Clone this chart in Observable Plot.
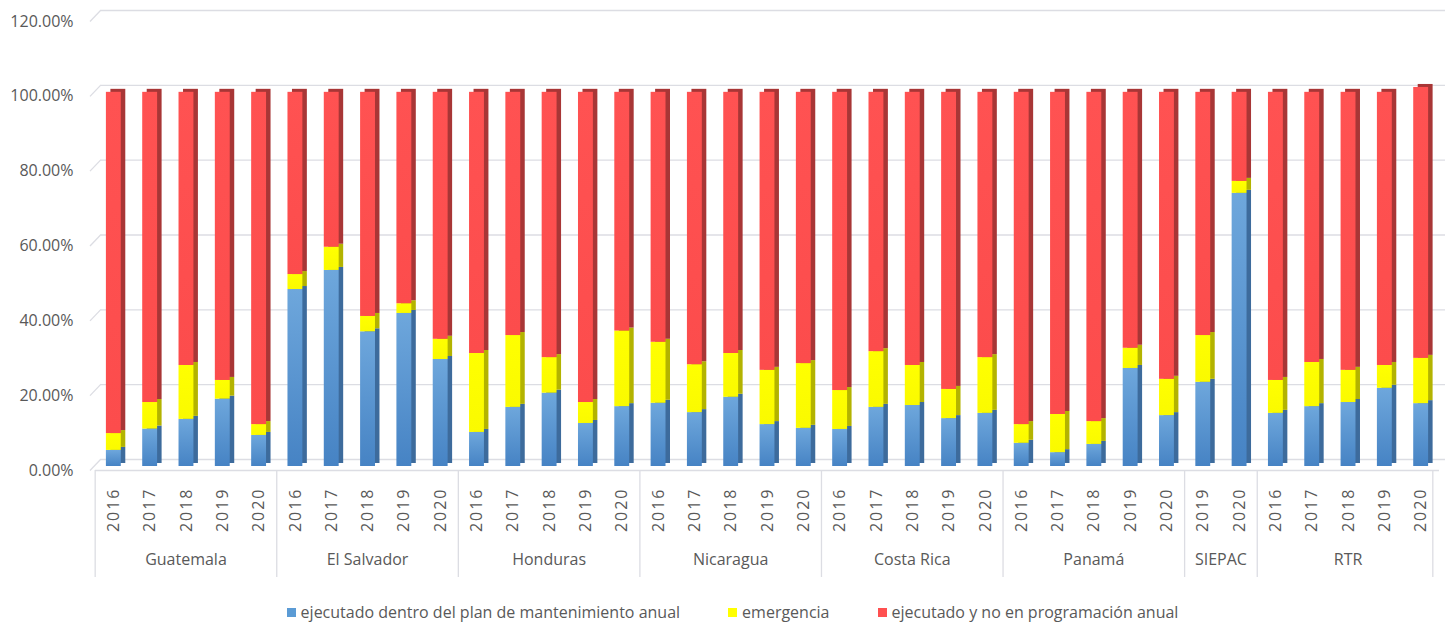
<!DOCTYPE html>
<html>
<head>
<meta charset="utf-8">
<script src="https://cdn.jsdelivr.net/npm/d3@7"></script>
<script src="https://cdn.jsdelivr.net/npm/@observablehq/plot@0.6"></script>
<style>
  body { margin: 0; background: #fff; font-family: "Open Sans", sans-serif; color: #595959; overflow: hidden; }
  #chart svg { display: block; }
  #legend { display: flex; justify-content: center; align-items: center; height: 26px; margin-top: 9px; padding-left: 12px; font-size: 16px; line-height: 20px; color: #595959; }
  #legend .item { display: flex; align-items: center; margin: 0 24px; }
  #legend .sw { width: 9px; height: 9px; margin-right: 5px; }
</style>
</head>
<body>
<svg width="0" height="0" style="position:absolute">
  <defs>
    <linearGradient id="gBlue" x1="0" y1="0" x2="0" y2="1">
      <stop offset="0" stop-color="#6ea7dc"/>
      <stop offset="1" stop-color="#4683c4"/>
    </linearGradient>
    <linearGradient id="gRed" x1="0" y1="0" x2="0" y2="1">
      <stop offset="0" stop-color="#ff5252"/>
      <stop offset="1" stop-color="#fc4c4c"/>
    </linearGradient>
    <linearGradient id="gYellow" x1="0" y1="0" x2="0" y2="1">
      <stop offset="0" stop-color="#ffff00"/>
      <stop offset="1" stop-color="#fafa00"/>
    </linearGradient>
  </defs>
</svg>
<div id="chart"></div>
<div id="legend"></div>
<script>
// ---- data ----
const countries = ["Guatemala", "El Salvador", "Honduras", "Nicaragua", "Costa Rica", "Panamá", "SIEPAC", "RTR"];
const countryYears = [
  [2016, 2017, 2018, 2019, 2020],
  [2016, 2017, 2018, 2019, 2020],
  [2016, 2017, 2018, 2019, 2020],
  [2016, 2017, 2018, 2019, 2020],
  [2016, 2017, 2018, 2019, 2020],
  [2016, 2017, 2018, 2019, 2020],
  [2019, 2020],
  [2016, 2017, 2018, 2019, 2020]
];
const seriesNames = [
  "ejecutado dentro del plan de mantenimiento anual",
  "emergencia",
  "ejecutado y no en programación anual"
];
// percentages, one value per bar in the order above
const dentroPlan = [
  4.3, 10.0, 12.6, 18.0, 8.3,
  47.3, 52.4, 36.0, 40.9, 28.6,
  9.1, 15.8, 19.6, 11.5, 16.0,
  16.9, 14.4, 18.5, 11.2, 10.2,
  9.9, 15.8, 16.3, 12.8, 14.2,
  6.2, 3.7, 5.9, 26.2, 13.6,
  22.5, 73.0,
  14.2, 16.0, 17.1, 20.9, 16.8
];
const emergencia = [
  4.5, 7.1, 14.4, 5.0, 2.9,
  4.0, 6.2, 4.1, 2.6, 5.4,
  21.1, 19.2, 9.5, 5.6, 20.2,
  16.3, 12.8, 11.7, 14.5, 17.3,
  10.4, 14.9, 10.7, 7.8, 14.9,
  5.0, 10.2, 6.1, 5.4, 9.7,
  12.5, 3.2,
  8.8, 11.8, 8.6, 6.1, 12.1
];
const noProgramado = [
  91.2, 82.9, 73.0, 77.0, 88.8,
  48.7, 41.4, 59.9, 56.5, 66.0,
  69.8, 65.0, 70.9, 82.9, 63.8,
  66.8, 72.8, 69.8, 74.3, 72.5,
  79.7, 69.3, 73.0, 79.4, 70.9,
  88.8, 86.1, 88.0, 68.4, 76.7,
  65.0, 23.8,
  77.0, 72.2, 74.3, 73.0, 72.4
];
const yTicks = [0, 20, 40, 60, 80, 100, 120];

// ---- styles ----
const frontFill = ["url(#gBlue)", "url(#gYellow)", "url(#gRed)"];
const sideFill = ["#3d6b9c", "#b3b300", "#a83636"];
const legendColor = ["#5b9bd5", "#ffff00", "#ff5050"];

// ---- build table ----
const keys = [];
countries.forEach((c, ci) => countryYears[ci].forEach(y => { keys.push(c + "|" + y); }));
const values = [dentroPlan, emergencia, noProgramado];
const rows = [];
keys.forEach((k, i) => values.forEach((arr, s) => rows.push({ key: k, s, value: arr[i] })));

const W = 1453, H = 590;
const plot = Plot.plot({
  width: W,
  height: H,
  marginLeft: 95,
  marginRight: 14,
  marginTop: 17,
  marginBottom: 124,
  style: { fontFamily: "Open Sans", fontSize: "16px", color: "#595959", background: "white" },
  x: { domain: keys, paddingInner: 0.59, paddingOuter: 0.3, round: false },
  y: { domain: [0, 120] },
  color: { type: "identity" },
  marks: [
    Plot.gridY(yTicks, { dx: 6, dy: -7, stroke: "#dcdde3", strokeOpacity: 1, strokeWidth: 1.3 }),
    Plot.ruleY([0], { dy: 4, stroke: "#dcdde3", strokeWidth: 1.3 }),
    Plot.barY(rows, Plot.stackY({ x: "key", y: "value", z: "s", fill: d => sideFill[d.s], dx: 4.5, dy: -3 })),
    Plot.barY(rows, Plot.stackY({ x: "key", y: "value", z: "s", fill: d => frontFill[d.s] })),
    Plot.axisY(yTicks, { tickSize: 0, tickPadding: 22, dy: 4, tickFormat: d => d.toFixed(2) + "%", label: null, fill: "#595959" }),
    Plot.axisX({ tickSize: 0, tickPadding: 21, tickRotate: -90, tickFormat: d => d.split("|")[1], label: null, fill: "#595959" })
  ]
});
document.getElementById("chart").appendChild(plot);

// ---- decorations derived from the scales ----
const xs = plot.scale("x"), ys = plot.scale("y");
const svg = d3.select(plot);
svg.selectAll('g[aria-label="x-axis tick label"] text').style("letter-spacing", "2px");
const deco = svg.append("g");
const cx = k => xs.apply(k) + xs.bandwidth / 2;
const step = xs.step;
const y0 = ys.apply(0);
// slanted grid stubs
yTicks.forEach(t => {
  const yy = ys.apply(t);
  deco.append("line").attr("x1", 90).attr("y1", yy + 4.5).attr("x2", 101).attr("y2", yy - 7)
    .attr("stroke", "#dcdde3").attr("stroke-width", 1.3);
});
// group separators and labels
let idx = 0;
countries.forEach((c, ci) => {
  const n = countryYears[ci].length;
  const first = keys[idx], last = keys[idx + n - 1];
  const left = cx(first) - step / 2;
  deco.append("line").attr("x1", left).attr("x2", left).attr("y1", y0 + 4).attr("y2", 577)
    .attr("stroke", "#dcdde3").attr("stroke-width", 1.3);
  if (ci === countries.length - 1) {
    const right = cx(last) + step / 2 - 6;
    deco.append("line").attr("x1", right).attr("x2", right).attr("y1", y0 + 4).attr("y2", 577)
      .attr("stroke", "#dcdde3").attr("stroke-width", 1.3);
  }
  deco.append("text").attr("x", (cx(first) + cx(last)) / 2).attr("y", 561)
    .attr("text-anchor", "middle").attr("dominant-baseline", "middle")
    .attr("fill", "#595959").style("font-size", "16px").text(c);
  idx += n;
});

// ---- legend ----
const lg = document.getElementById("legend");
seriesNames.forEach((name, i) => {
  const it = document.createElement("div");
  it.className = "item";
  it.innerHTML = `<span class="sw" style="background:${legendColor[i]}"></span><span>${name}</span>`;
  lg.appendChild(it);
});
</script>
</body>
</html>
